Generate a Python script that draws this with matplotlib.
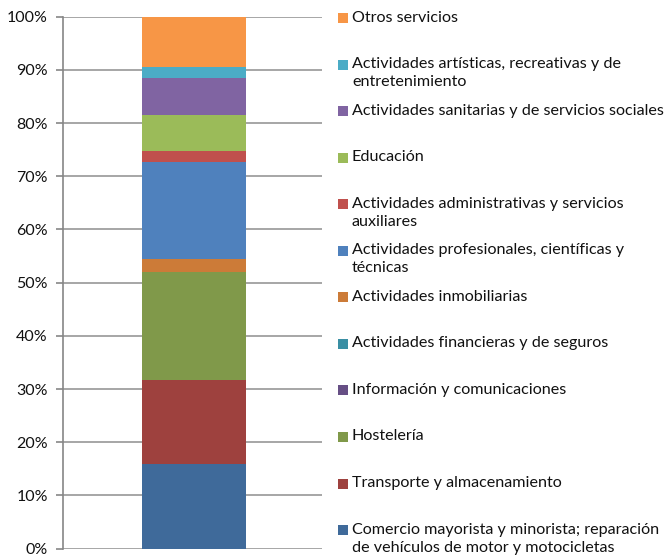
import matplotlib
matplotlib.use("Agg")
import matplotlib.pyplot as plt
from matplotlib.patches import Rectangle
from matplotlib.ticker import PercentFormatter

plt.rcParams['font.family'] = ['Lato', 'DejaVu Sans']

# Sectors, bottom of the stack first
sectors = [
    "Comercio mayorista y minorista; reparación\nde vehículos de motor y motocicletas",
    "Transporte y almacenamiento",
    "Hostelería",
    "Información y comunicaciones",
    "Actividades financieras y de seguros",
    "Actividades inmobiliarias",
    "Actividades profesionales, científicas y\ntécnicas",
    "Actividades administrativas y servicios\nauxiliares",
    "Educación",
    "Actividades sanitarias y de servicios sociales",
    "Actividades artísticas, recreativas y de\nentretenimiento",
    "Otros servicios",
]
shares = [15.9, 15.8, 20.3, 0.0, 0.0, 2.4, 18.3, 2.0, 6.8, 7.0, 2.1, 9.4]
colors = ["#3F6A9A", "#9E413E", "#80994A", "#664F85", "#3A8FA4", "#CC7B38",
          "#4F81BD", "#C0504D", "#9BBB59", "#8064A2", "#4BACC6", "#F79646"]
yticks = [0, 10, 20, 30, 40, 50, 60, 70, 80, 90, 100]

W, H = 665, 558
fig = plt.figure(figsize=(W / 100, H / 100), dpi=100)
ax = fig.add_axes([63 / W, 1 - 548.6 / H, 259 / W, 531.9 / H])

bottom = 0.0
for val, col in zip(shares, colors):
    ax.bar(0.506, val, width=0.40, bottom=bottom, color=col, zorder=3, linewidth=0)
    bottom += val

ax.set_xlim(0, 1)
ax.set_ylim(0, 100)
ax.set_yticks(yticks)
ax.yaxis.set_major_formatter(PercentFormatter(decimals=0))
ax.set_xticks([])
ax.grid(axis='y', color='#A6A6A6', linewidth=1.4, zorder=0)
for s in ['top', 'right', 'bottom']:
    ax.spines[s].set_visible(False)
ax.spines['left'].set_color('#868686')
ax.spines['left'].set_linewidth(1.2)
ax.tick_params(axis='y', length=5, width=1.2, color='#868686', pad=6,
               labelsize=11.5, labelcolor='#111111')

# Legend, top entry first, evenly spaced
top_y = 18.0
step = 46.55
for i, (lab, col) in enumerate(zip(sectors[::-1], colors[::-1])):
    yc = top_y + i * step
    fig.patches.append(Rectangle((338 / W, 1 - (yc + 5) / H), 10 / W, 10 / H,
                                 transform=fig.transFigure, facecolor=col,
                                 edgecolor='none'))
    fig.text(352 / W, 1 - (yc - 7.5) / H, lab, ha='left', va='top',
             fontsize=11.6, color='#111111', linespacing=1.38)

fig.savefig("out.png", dpi=100)
